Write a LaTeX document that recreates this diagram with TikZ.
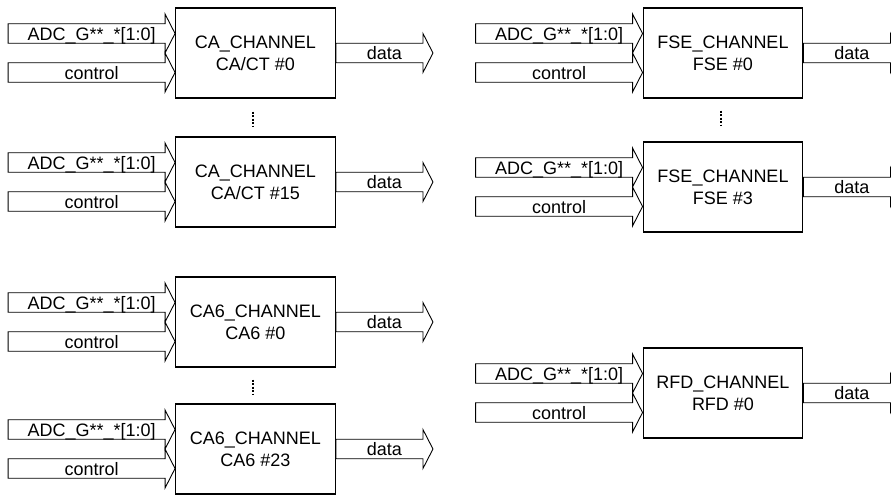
\documentclass[tikz,border=0pt]{standalone}
\usepackage{fontspec}
\setmainfont{Liberation Sans}
\usetikzlibrary{calc}
\tikzset{
  chbox/.style={draw, line width=1.4pt, minimum width=159.5pt, minimum height=90pt,
    inner sep=0pt, align=center, font=\fontsize{18}{22}\selectfont},
  bus/.style={draw, line width=0.9pt, line join=miter},
  lbl/.style={anchor=base, inner sep=0pt, font=\fontsize{18}{22}\selectfont},
  dotsty/.style={line width=1.5pt, dash pattern=on 2pt off 1.5pt}
}
\newcommand{\busin}[3]{% #1 box, #2 y offset, #3 label
  \draw[bus, shift={($(#1.west)+(0,#2)$)}] (0,0) -- (-10,19.5) -- (-10,9.75) -- (-167,9.75)
    -- (-167,-9.75) -- (-10,-9.75) -- (-10,-19.5) -- cycle;
  \node[lbl] at ($(#1.west)+(-83.5,{#2-6.75})$) {#3};
}
\newcommand{\busout}[2]{% #1 box, #2 label
  \draw[bus, shift={(#1.east)}] (0,9.75) -- (87,9.75) -- (87,19.5) -- (97,0) -- (87,-19.5)
    -- (87,-9.75) -- (0,-9.75) -- cycle;
  \node[lbl] at ($(#1.east)+(48.5,-6.75)$) {#2};
}
\newcommand{\chan}[4]{% #1 name, #2 position, #3 line1, #4 line2
  \node[chbox] (#1) at #2 {#3\\#4};
  \busin{#1}{19.5}{ADC\_G**\_*[1:0]}
  \busin{#1}{-19.5}{control}
  \busout{#1}{data}
}
\begin{document}
\begin{tikzpicture}[x=1pt, y=1pt]
\useasboundingbox (0,0) rectangle (891,-495);
\clip (0,0) rectangle (891,-495);

\chan{ca0}{(255.5,-53)}{CA\_CHANNEL}{CA/CT \#0}
\chan{ca15}{(255.5,-182)}{CA\_CHANNEL}{CA/CT \#15}
\chan{cas0}{(255.5,-322)}{CA6\_CHANNEL}{CA6 \#0}
\chan{cas23}{(255.5,-449)}{CA6\_CHANNEL}{CA6 \#23}
\chan{fse0}{(723,-53)}{FSE\_CHANNEL}{FSE \#0}
\chan{fse3}{(723,-187)}{FSE\_CHANNEL}{FSE \#3}
\chan{rfd0}{(723,-393)}{RFD\_CHANNEL}{RFD \#0}

\draw[dotsty, shorten <=13pt, shorten >=9pt] ($(ca0.south)+(-2.5,0)$) -- ($(ca15.north)+(-2.5,0)$);
\draw[dotsty, shorten <=12pt, shorten >=8pt] ($(cas0.south)+(-2.5,0)$) -- ($(cas23.north)+(-2.5,0)$);
\draw[dotsty, shorten <=12pt, shorten >=15pt] ($(fse0.south)+(-2,0)$) -- ($(fse3.north)+(-2,0)$);
\end{tikzpicture}
\end{document}
